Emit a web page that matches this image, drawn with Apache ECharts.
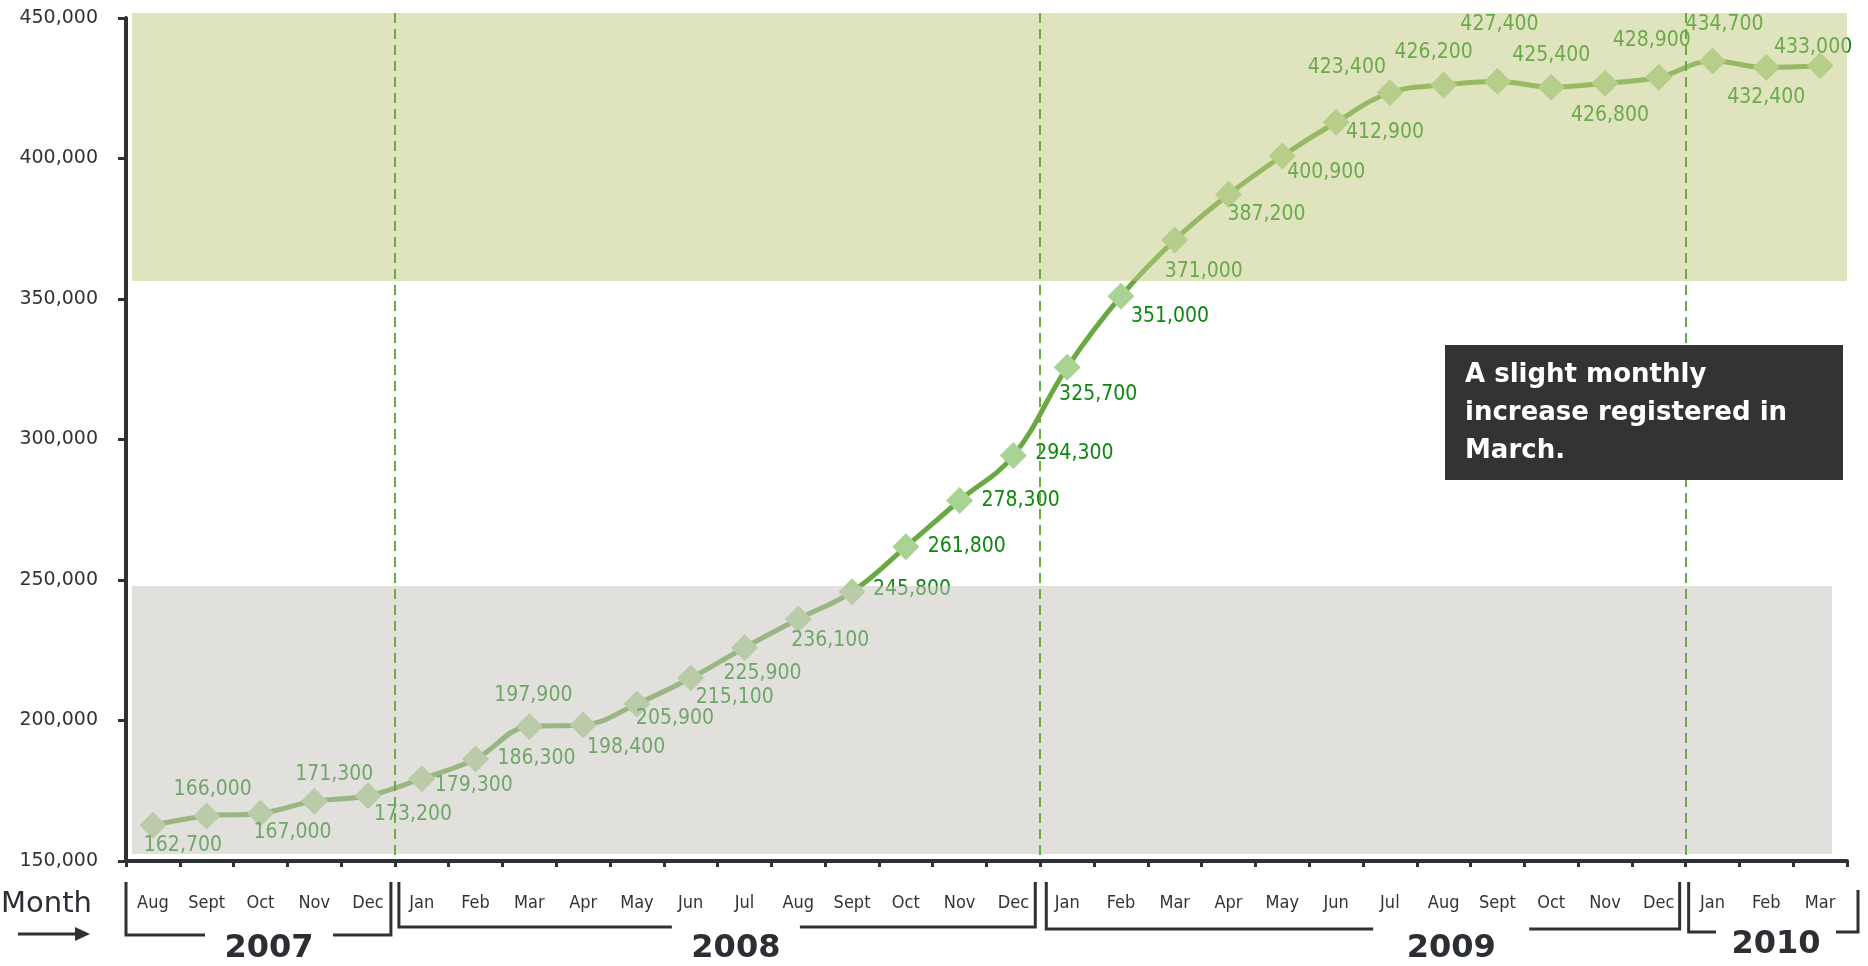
<!DOCTYPE html>
<html>
<head>
<meta charset="utf-8">
<title>Monthly total, Aug 2007 – Mar 2010</title>
<script src="https://cdn.jsdelivr.net/npm/echarts@6/dist/echarts.min.js"></script>
<style>
  html, body { margin: 0; padding: 0; background: #ffffff; }
  #chart { width: 1868px; height: 966px; }
</style>
</head>
<body>
<div id="chart"></div>
<script>
// ---- data ----------------------------------------------------------------
const years = ['2007', '2008', '2009', '2010'];
const monthsPerYear = [
  ['Aug', 'Sept', 'Oct', 'Nov', 'Dec'],
  ['Jan', 'Feb', 'Mar', 'Apr', 'May', 'Jun', 'Jul', 'Aug', 'Sept', 'Oct', 'Nov', 'Dec'],
  ['Jan', 'Feb', 'Mar', 'Apr', 'May', 'Jun', 'Jul', 'Aug', 'Sept', 'Oct', 'Nov', 'Dec'],
  ['Jan', 'Feb', 'Mar']
];
const values = [
  162700, 166000, 167000, 171300, 173200,
  179300, 186300, 197900, 198400, 205900, 215100, 225900, 236100, 245800, 261800, 278300, 294300,
  325700, 351000, 371000, 387200, 400900, 412900, 423400, 426200, 427400, 425400, 426800, 428900,
  434700, 432400, 433000
];
const yMin = 150000;
const yMax = 450000;
const yStep = 50000;
const noteText = 'A slight monthly\nincrease registered in\nMarch.';

// category keys are unique (year-month); the axis shows only the month name
const categories = [];
const monthLabels = [];
years.forEach((y, yi) => monthsPerYear[yi].forEach(m => {
  categories.push(y + '-' + m);
  monthLabels.push(m);
}));

// ---- layout / style ------------------------------------------------------
// value-label offsets (px) relative to each diamond
const labelOffsets = [
  [30, 20], [6, -26], [32, 19], [20, -27], [45, 19],
  [52, 7], [61, 0], [4, -31], [43, 23], [38, 15], [44, 19], [18, 26], [32, 21], [60, -2], [61, 0], [61, 0], [61, -2],
  [31, 27], [49, 20], [29, 32], [38, 20], [44, 17], [49, 10], [-43, -25], [-10, -32], [2, -57], [0, -32], [5, 32], [-7, -37],
  [12, -36], [0, 30], [-7, -18]
];
const highBand = [356400, 451800];
const lowBand = [152500, 247900];

const FONT = '"DejaVu Sans"';
const NARROW = '"DejaVu Sans Condensed", "DejaVu Sans"';
const INK = '#2e3135';
const LINE_GREEN = '#6aa843';
const DIAMOND = '#a9d393';
const LABEL_GREEN = '#0f870f';

const chart = echarts.init(document.getElementById('chart'), null, { renderer: 'canvas' });

chart.setOption({
  animation: false,
  backgroundColor: '#ffffff',
  grid: { left: 126, right: 21, top: 18, bottom: 105, containLabel: false },
  xAxis: {
    type: 'category',
    data: categories,
    boundaryGap: true,
    axisLine: { show: true, lineStyle: { color: INK, width: 4 } },
    axisTick: { show: true, interval: 0, length: 6, lineStyle: { color: INK, width: 3 } },
    axisLabel: {
      interval: 0,
      margin: 33,
      fontSize: 18,
      fontFamily: NARROW,
      color: '#333333',
      formatter: (v, i) => monthLabels[i]
    },
    splitLine: { show: false }
  },
  yAxis: {
    type: 'value',
    min: yMin,
    max: yMax,
    interval: yStep,
    axisLine: { show: true, lineStyle: { color: INK, width: 4 } },
    axisTick: { show: true, length: 8, lineStyle: { color: INK, width: 3 } },
    axisLabel: { margin: 28, fontSize: 19, fontFamily: FONT, color: '#333333' },
    splitLine: { show: false }
  },
  series: [{
    type: 'line',
    data: values.map((v, i) => ({
      value: v,
      label: { offset: labelOffsets[i] }
    })),
    smooth: 0.4,
    symbol: 'diamond',
    symbolSize: 27,
    itemStyle: { color: DIAMOND },
    lineStyle: { color: LINE_GREEN, width: 5 },
    label: {
      show: true,
      position: 'inside',
      fontSize: 21,
      fontFamily: NARROW,
      color: LABEL_GREEN,
      formatter: p => p.value.toLocaleString('en-US')
    },
    emphasis: { disabled: true },
    z: 2
  }]
});

// ---- overlays, year brackets and annotation --------------------------------
const xAt = i => chart.convertToPixel({ gridIndex: 0 }, [i, yMin])[0];
const yAt = v => chart.convertToPixel({ gridIndex: 0 }, [0, v])[1];
const band = xAt(1) - xAt(0);
const edge = k => xAt(0) + (k - 0.5) * band;   // boundary before category k

const graphics = [];

// translucent bands drawn over the series
const bandLeft = edge(0) + 6;
graphics.push({
  type: 'rect', z: 10, silent: true,
  shape: { x: bandLeft, y: yAt(highBand[1]), width: edge(categories.length) - bandLeft, height: yAt(highBand[0]) - yAt(highBand[1]) },
  style: { fill: 'rgba(193,201,131,0.52)' }
});
graphics.push({
  type: 'rect', z: 10, silent: true,
  shape: { x: bandLeft, y: yAt(lowBand[1]), width: edge(categories.length) - 15 - bandLeft, height: yAt(lowBand[0]) - yAt(lowBand[1]) },
  style: { fill: 'rgba(199,195,187,0.52)' }
});

// year start indices
const yearStart = [];
let acc = 0;
monthsPerYear.forEach(m => { yearStart.push(acc); acc += m.length; });
yearStart.push(acc);

// dashed separators at each new year
for (let yi = 1; yi < years.length; yi++) {
  const x = Math.round(edge(yearStart[yi]));
  graphics.push({
    type: 'line', z: 11, silent: true,
    shape: { x1: x, y1: yAt(highBand[1]), x2: x, y2: yAt(yMin) },
    style: { stroke: '#6aab45', lineWidth: 2, lineDash: [10, 6] }
  });
}

// brackets under each year's months, with the year in a gap of the bottom rule
const bracketSpec = [
  { l: 0, r: -4, bottom: 935, center: 2.66, half: 64, ty: 949, rTop: 882 },
  { l: 4, r: -5, bottom: 927, center: 11.34, half: 64, ty: 949, rTop: 882 },
  { l: 6, r: -6, bottom: 929, center: 24.64, half: 78, ty: 949, rTop: 882 },
  { l: 3, r: 11, bottom: 932, center: 30.68, half: 60, ty: 945, rTop: 890 }
];
const bracketTop = 882;
years.forEach((y, yi) => {
  const s = bracketSpec[yi];
  const L = edge(yearStart[yi]) + s.l;
  const R = edge(yearStart[yi + 1]) + s.r;
  const cx = edge(0) + s.center * band;
  const stroke = { stroke: INK, lineWidth: 3, fill: null };
  graphics.push({
    type: 'polyline', z: 5, silent: true,
    shape: { points: [[L, bracketTop], [L, s.bottom], [cx - s.half, s.bottom]] },
    style: stroke
  });
  graphics.push({
    type: 'polyline', z: 5, silent: true,
    shape: { points: [[cx + s.half, s.bottom], [R, s.bottom], [R, s.rTop]] },
    style: stroke
  });
  graphics.push({
    type: 'text', z: 5, silent: true,
    x: cx, y: s.ty,
    style: {
      text: y, fill: '#2b2e33',
      font: 'bold 32px ' + FONT,
      textAlign: 'center', textVerticalAlign: 'middle'
    }
  });
});

// axis caption with arrow
graphics.push({
  type: 'text', z: 5, silent: true, x: 1, y: 904,
  style: { text: 'Month', fill: '#2b2e33', font: '29px ' + FONT, textAlign: 'left', textVerticalAlign: 'middle' }
});
graphics.push({
  type: 'line', z: 5, silent: true,
  shape: { x1: 18, y1: 934, x2: 78, y2: 934 },
  style: { stroke: INK, lineWidth: 3 }
});
graphics.push({
  type: 'polygon', z: 5, silent: true,
  shape: { points: [[75, 927], [90, 934], [75, 941]] },
  style: { fill: INK }
});

// annotation box
graphics.push({
  type: 'rect', z: 12, silent: true,
  shape: { x: 1445, y: 345, width: 398, height: 135 },
  style: { fill: '#333333' }
});
graphics.push({
  type: 'text', z: 13, silent: true, x: 1465, y: 356,
  style: {
    text: noteText, fill: '#ffffff',
    font: 'bold 26px ' + FONT, lineHeight: 38,
    textAlign: 'left', textVerticalAlign: 'top'
  }
});

chart.setOption({ graphic: { elements: graphics } });
</script>
</body>
</html>
